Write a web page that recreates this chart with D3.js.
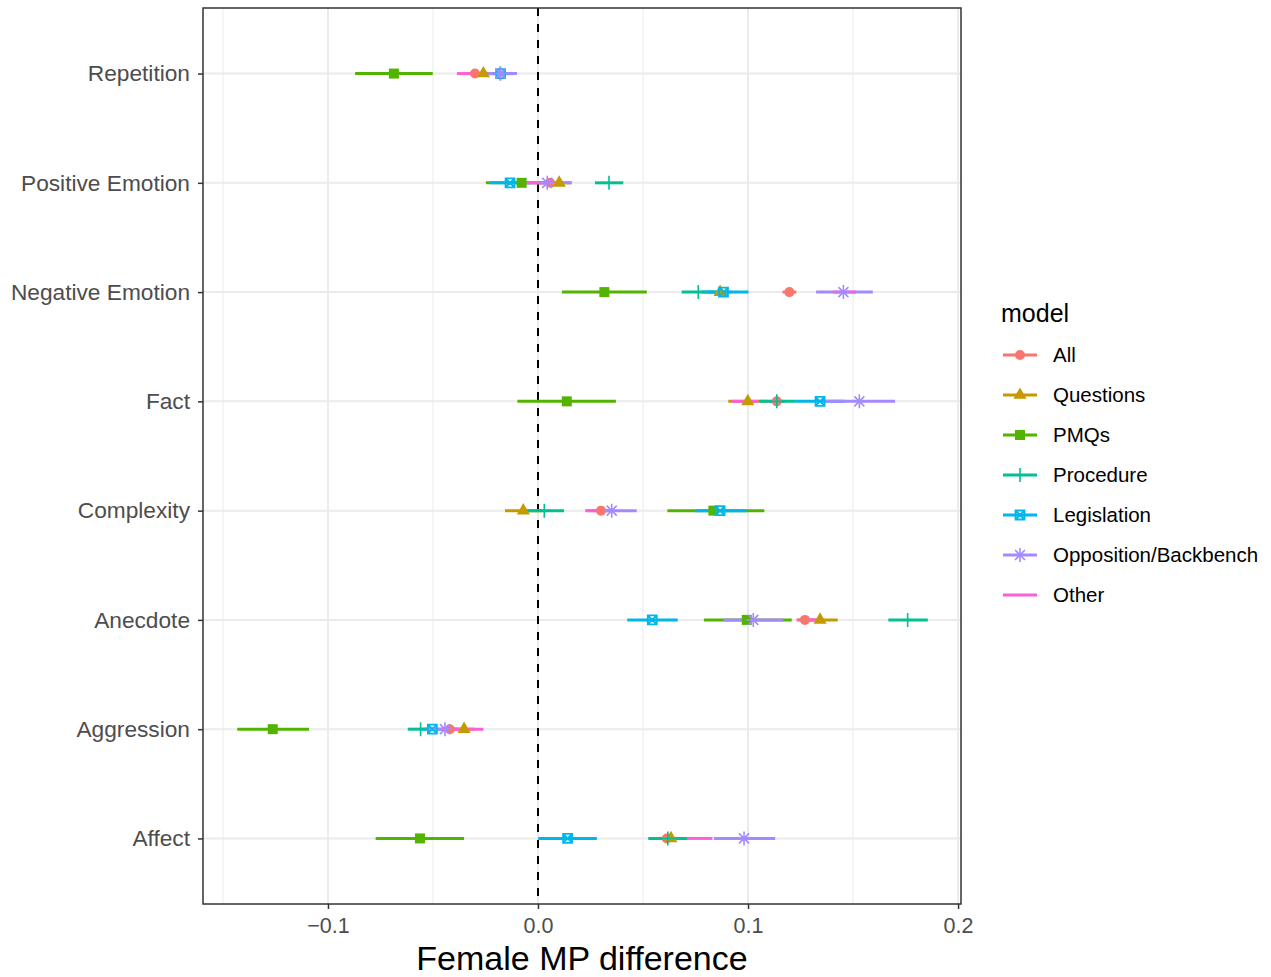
<!DOCTYPE html>
<html>
<head>
<meta charset="utf-8">
<script src="https://cdn.jsdelivr.net/npm/d3@7"></script>
<style>
    body { margin: 0; background: #fff; }
    text { font-family: "Liberation Sans", Arial, Helvetica, sans-serif; }
</style>
</head>
<body>
<svg id="chart"></svg>
<script>
const categories = ["Repetition", "Positive Emotion", "Negative Emotion", "Fact", "Complexity", "Anecdote", "Aggression", "Affect"]
const models = ["All", "Questions", "PMQs", "Procedure", "Legislation", "Opposition/Backbench", "Other"]
const xTicks = [-0.1, 0.0, 0.1, 0.2]

// estimate, lower, upper per category (same order as categories)
const allEst = [-0.030, 0.0057, 0.1197, 0.1137, 0.030, 0.1271, -0.042, 0.0613]
const allLo = [-0.035, 0.0007, 0.1164, 0.1097, 0.026, 0.1231, -0.046, 0.0573]
const allHi = [-0.025, 0.0107, 0.1230, 0.1177, 0.034, 0.1311, -0.038, 0.0653]

const questionsEst = [-0.026, 0.0101, 0.0867, 0.0999, -0.007, 0.1343, -0.0352, 0.0633]
const questionsLo = [-0.032, 0.004, 0.081, 0.0906, -0.0157, 0.1259, -0.041, 0.057]
const questionsHi = [-0.020, 0.016, 0.092, 0.1092, 0.0017, 0.1427, -0.030, 0.070]

const pmqsEst = [-0.0686, -0.0078, 0.0316, 0.0137, 0.0835, 0.0994, -0.1263, -0.0562]
const pmqsLo = [-0.0871, -0.0248, 0.0114, -0.0098, 0.0616, 0.079, -0.1432, -0.0773]
const pmqsHi = [-0.0501, 0.0092, 0.0518, 0.0371, 0.1078, 0.1208, -0.109, -0.0352]

const procedureEst = [-0.018, 0.0338, 0.0763, 0.1137, 0.003, 0.176, -0.0559, 0.0618]
const procedureLo = [-0.024, 0.0271, 0.0684, 0.1054, -0.0054, 0.1668, -0.062, 0.0525]
const procedureHi = [-0.012, 0.0406, 0.0842, 0.1224, 0.0124, 0.1856, -0.0497, 0.0713]

const legislationEst = [-0.0178, -0.0133, 0.0883, 0.1343, 0.0867, 0.0544, -0.0503, 0.0141]
const legislationLo = [-0.024, -0.0229, 0.078, 0.1224, 0.0748, 0.0425, -0.0557, 0.0001]
const legislationHi = [-0.011, -0.0037, 0.1002, 0.146, 0.0994, 0.0665, -0.045, 0.028]

const oppositionEst = [-0.0178, 0.0044, 0.1454, 0.153, 0.0351, 0.1025, -0.0443, 0.0981]
const oppositionLo = [-0.026, -0.007, 0.1324, 0.136, 0.0232, 0.0883, -0.0538, 0.0838]
const oppositionHi = [-0.010, 0.016, 0.1594, 0.170, 0.047, 0.1168, -0.0348, 0.1129]

const otherEst = [-0.0326, -0.0014, 0.146, 0.0986, 0.028, 0.129, -0.036, 0.0772]
const otherLo = [-0.0386, -0.0062, 0.1406, 0.0922, 0.0225, 0.124, -0.046, 0.0713]
const otherHi = [-0.0266, 0.0034, 0.1514, 0.1049, 0.0335, 0.134, -0.026, 0.0831]

const colors = ["#F8766D", "#C49A00", "#53B400", "#00C094", "#00B6EB", "#A58AFF", "#FB61D7"]
const shapes = ["circle", "triangle", "square", "plus", "boxcross", "star", null]

const seriesEst = [allEst, questionsEst, pmqsEst, procedureEst, legislationEst, oppositionEst, otherEst]
const seriesLo = [allLo, questionsLo, pmqsLo, procedureLo, legislationLo, oppositionLo, otherLo]
const seriesHi = [allHi, questionsHi, pmqsHi, procedureHi, legislationHi, oppositionHi, otherHi]

const rows = []
models.forEach((m, i) => {
    categories.forEach((c, j) => {
        rows.push({ model: m, idx: i, cat: c, est: seriesEst[i][j], lo: seriesLo[i][j], hi: seriesHi[i][j] })
    })
})

const width = 1271, height = 977
const panel = { left: 203, right: 961, top: 8, bottom: 904 }

const svg = d3.select("#chart").attr("width", width).attr("height", height)

const x = d3.scaleLinear()
    .domain([-0.1595, 0.2014])
    .range([panel.left, panel.right])

const y = d3.scalePoint()
    .domain(categories)
    .range([panel.top, panel.bottom])
    .padding(0.6)

// grid
const grid = svg.append("g")
grid.selectAll(".minor")
    .data([-0.15, -0.05, 0.05, 0.15])
    .enter().append("line")
    .attr("x1", d => x(d)).attr("x2", d => x(d))
    .attr("y1", panel.top).attr("y2", panel.bottom)
    .attr("stroke", "#EBEBEB").attr("stroke-width", 1)
grid.selectAll(".major")
    .data(xTicks)
    .enter().append("line")
    .attr("x1", d => x(d)).attr("x2", d => x(d))
    .attr("y1", panel.top).attr("y2", panel.bottom)
    .attr("stroke", "#EBEBEB").attr("stroke-width", 2)
grid.selectAll(".hmajor")
    .data(categories)
    .enter().append("line")
    .attr("x1", panel.left).attr("x2", panel.right)
    .attr("y1", d => y(d)).attr("y2", d => y(d))
    .attr("stroke", "#EBEBEB").attr("stroke-width", 2)

// zero line
svg.append("line")
    .attr("x1", x(0)).attr("x2", x(0))
    .attr("y1", panel.top).attr("y2", panel.bottom)
    .attr("stroke", "#000").attr("stroke-width", 2)
    .attr("stroke-dasharray", "8,8")

// ranges
svg.append("g").selectAll("line")
    .data(rows)
    .enter().append("line")
    .attr("x1", d => x(d.lo)).attr("x2", d => x(d.hi))
    .attr("y1", d => y(d.cat)).attr("y2", d => y(d.cat))
    .attr("stroke", d => colors[d.idx])
    .attr("stroke-width", 3)

function drawShape(g, shape, color) {
    if (shape === "circle") {
        g.append("circle").attr("r", 5).attr("fill", color)
    } else if (shape === "triangle") {
        g.append("path").attr("d", d3.symbol(d3.symbolTriangle, 75)()).attr("fill", color)
    } else if (shape === "square") {
        g.append("rect").attr("x", -5).attr("y", -5).attr("width", 10).attr("height", 10).attr("fill", color)
    } else if (shape === "plus") {
        g.append("path").attr("d", "M-7,0H7M0,-7V7").attr("stroke", color).attr("stroke-width", 1.6).attr("fill", "none")
    } else if (shape === "boxcross") {
        g.append("path").attr("d", "M-4.5,-4.5H4.5V4.5H-4.5ZM-4.5,-4.5L4.5,4.5M4.5,-4.5L-4.5,4.5")
            .attr("stroke", color).attr("stroke-width", 1.8).attr("fill", "none")
    } else if (shape === "star") {
        g.append("path").attr("d", "M-7,0H7M0,-7V7M-5,-5L5,5M5,-5L-5,5")
            .attr("stroke", color).attr("stroke-width", 1.6).attr("fill", "none")
    }
}

// points
rows.filter(d => shapes[d.idx]).forEach(d => {
    const g = svg.append("g").attr("transform", "translate(" + x(d.est) + "," + y(d.cat) + ")")
    drawShape(g, shapes[d.idx], colors[d.idx])
})

// panel border
svg.append("rect")
    .attr("x", panel.left).attr("y", panel.top)
    .attr("width", panel.right - panel.left).attr("height", panel.bottom - panel.top)
    .attr("fill", "none").attr("stroke", "#333333").attr("stroke-width", 1.5)

// axes
const xAxis = svg.append("g")
    .attr("transform", "translate(0," + panel.bottom + ")")
    .call(d3.axisBottom(x).tickValues(xTicks).tickSize(5).tickPadding(9)
        .tickFormat(d => d3.format(".1f")(d).replace("-", "\u2212")))
xAxis.select(".domain").remove()
xAxis.selectAll("line").attr("stroke", "#333333").attr("stroke-width", 1.5)
xAxis.selectAll("text").attr("fill", "#4D4D4D").style("font-size", "21.5px")

const yAxis = svg.append("g")
    .attr("transform", "translate(" + panel.left + ",0)")
    .call(d3.axisLeft(y).tickSize(5).tickPadding(8))
yAxis.select(".domain").remove()
yAxis.selectAll("line").attr("stroke", "#333333").attr("stroke-width", 1.5)
yAxis.selectAll("text").attr("fill", "#4D4D4D").style("font-size", "22.7px")

svg.append("text")
    .attr("x", (panel.left + panel.right) / 2)
    .attr("y", 970)
    .attr("text-anchor", "middle")
    .style("font-size", "34px")
    .attr("fill", "#000")
    .text("Female MP difference")

// legend
const legend = svg.append("g").attr("transform", "translate(1001,0)")
legend.append("text")
    .attr("x", 0).attr("y", 322)
    .style("font-size", "25px")
    .text("model")

const items = legend.selectAll(".item")
    .data(models)
    .enter().append("g")
    .attr("transform", (d, i) => "translate(0," + (355 + i * 40) + ")")

items.append("line")
    .attr("x1", 2).attr("x2", 36)
    .attr("stroke", (d, i) => colors[i])
    .attr("stroke-width", 3)
items.each(function (d, i) {
    const g = d3.select(this).append("g").attr("transform", "translate(19,0)")
    drawShape(g, shapes[i], colors[i])
})
items.append("text")
    .attr("x", 52).attr("y", 0)
    .attr("dy", "0.35em")
    .style("font-size", "20.5px")
    .text(d => d)
</script>
</body>
</html>
